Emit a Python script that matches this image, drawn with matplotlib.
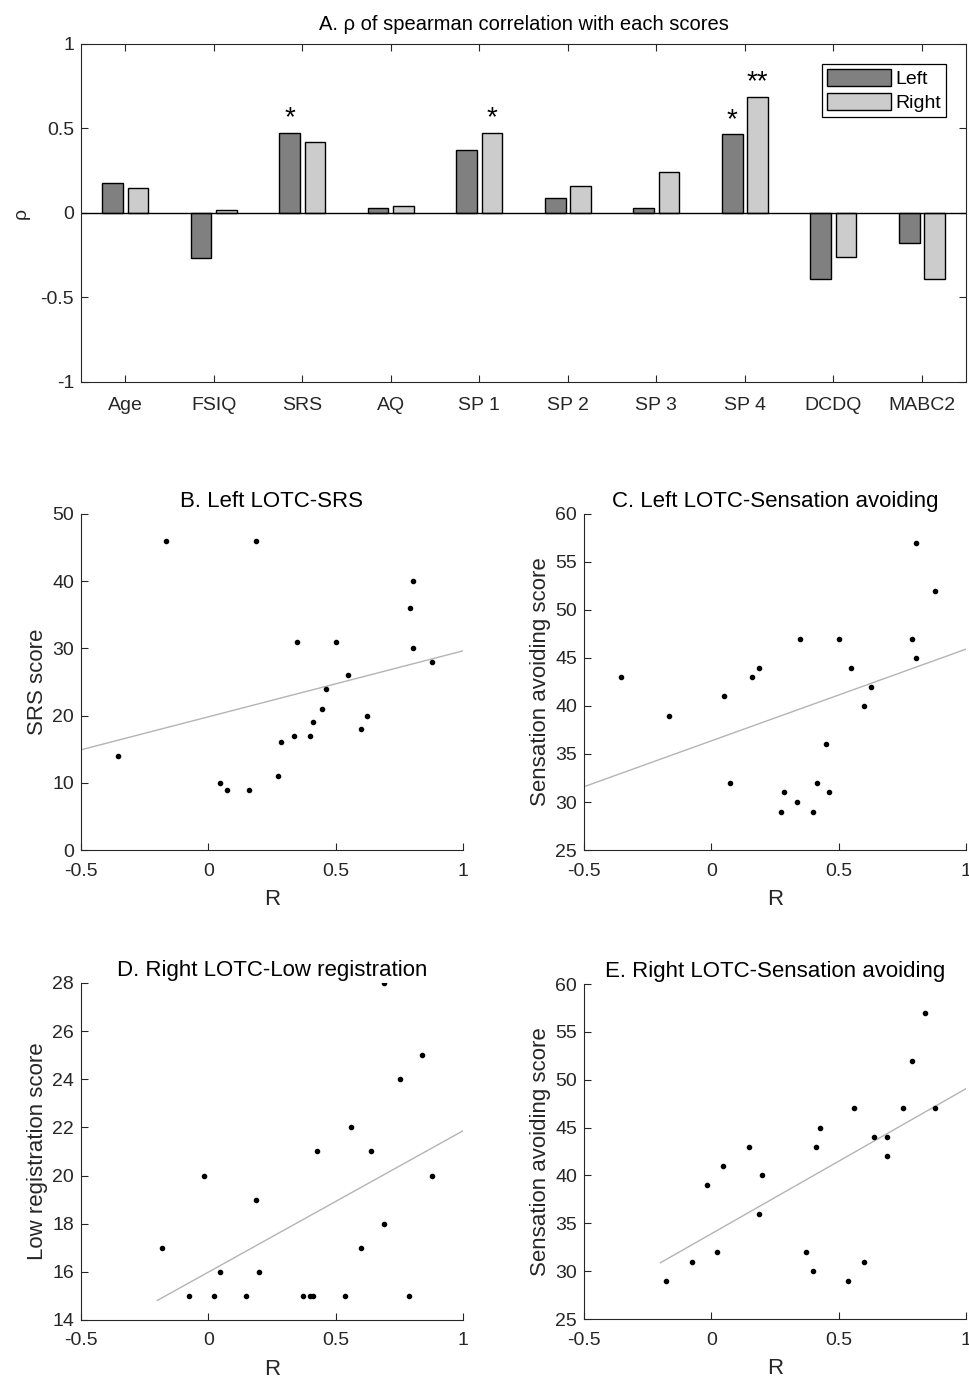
import numpy as np
import matplotlib.pyplot as plt

plt.rcParams['font.family'] = ['Liberation Sans', 'DejaVu Sans']

# ---- panel A data ----
cats = ['Age', 'FSIQ', 'SRS', 'AQ', 'SP 1', 'SP 2', 'SP 3', 'SP 4', 'DCDQ', 'MABC2']
rho_left = [0.178, -0.267, 0.475, 0.03, 0.372, 0.086, 0.03, 0.466, -0.388, -0.175]
rho_right = [0.149, 0.02, 0.42, 0.04, 0.475, 0.16, 0.243, 0.688, -0.259, -0.388]
sig_left = ['', '', '*', '', '', '', '', '*', '', '']
sig_right = ['', '', '', '', '*', '', '', '**', '', '']

# ---- scatter data ----
r_left = [-0.355, -0.166, 0.186, 0.046, 0.073, 0.161, 0.274, 0.287, 0.337, 0.350, 0.398,
          0.412, 0.448, 0.463, 0.501, 0.550, 0.599, 0.625, 0.790, 0.802, 0.802, 0.877]
srs = [14, 46, 46, 10, 9, 9, 11, 16, 17, 31, 17, 19, 21, 24, 31, 26, 18, 20, 36, 40, 30, 28]
sa_left = [43, 39, 44, 41, 32, 43, 29, 31, 30, 47, 29, 32, 36, 31, 47, 44, 40, 42, 47, 57, 45, 52]
r_left_c = [-0.353, -0.165, 0.186, 0.048, 0.073, 0.161, 0.274, 0.287, 0.337, 0.349, 0.398,
            0.413, 0.450, 0.463, 0.501, 0.550, 0.600, 0.625, 0.789, 0.802, 0.802, 0.877]

r_right = [-0.180, -0.077, -0.016, 0.022, 0.047, 0.148, 0.186, 0.199, 0.372, 0.398, 0.411,
           0.425, 0.537, 0.562, 0.599, 0.638, 0.688, 0.689, 0.751, 0.789, 0.840, 0.877]
low_reg = [17, 15, 20, 15, 16, 15, 19, 16, 15, 15, 15, 21, 15, 22, 17, 21, 18, 28, 24, 15, 25, 20]
sa_right = [29, 31, 39, 32, 41, 43, 36, 40, 32, 30, 43, 45, 29, 47, 31, 44, 44, 42, 47, 52, 57, 47]

txt = '#262626'
fig = plt.figure(figsize=(9.7, 13.79), dpi=100)

# ---------------- A ----------------
ax = fig.add_axes([0.0835, 0.7230, 0.9124, 0.2451])
x = np.arange(1, len(cats) + 1)
w = 0.235
off = 0.143
bl = ax.bar(x - off, rho_left, w, color='#808080', edgecolor='black', linewidth=1.0, label='Left')
br = ax.bar(x + off, rho_right, w, color='#cccccc', edgecolor='black', linewidth=1.0, label='Right')
ax.axhline(0, color='black', linewidth=1.0)
for i in range(len(cats)):
    for s, v, dx in ((sig_left[i], rho_left[i], -off), (sig_right[i], rho_right[i], off)):
        if s:
            ax.annotate(s, (x[i] + dx, v), xytext=(0, 1), textcoords='offset points',
                        ha='center', va='bottom', fontsize=20, color='black')
ax.set_xlim(0.5, 10.5)
ax.set_ylim(-1, 1)
ax.set_yticks([-1, -0.5, 0, 0.5, 1])
ax.set_yticklabels(['-1', '-0.5', '0', '0.5', '1'])
ax.set_xticks(x)
ax.set_xticklabels(cats)
ax.tick_params(direction='in', top=True, right=True, length=5, labelsize=14,
               labelcolor=txt, color=txt)
ax.tick_params(axis='x', pad=11)
ax.tick_params(axis='y', pad=5)
for sp in ax.spines.values():
    sp.set_color(txt)
ax.set_ylabel('ρ', fontsize=14, color=txt, labelpad=8)
ax.set_title('A. ρ of spearman correlation with each scores', fontsize=14.5, color='black', pad=10)
leg = ax.legend(loc='upper right', bbox_to_anchor=(0.977, 0.941), fontsize=14,
                handlelength=3.3, handleheight=1.0, handletextpad=0.2, borderpad=0.25,
                labelspacing=0.25, fancybox=False, framealpha=1, edgecolor='black',
                borderaxespad=0)
leg.get_frame().set_linewidth(0.9)

# ---------------- scatter panels ----------------
panels = [
    ([0.0835, 0.3836, 0.3938, 0.2437], r_left, srs, 'B. Left LOTC-SRS', 'SRS score',
     (0, 50), np.arange(0, 51, 10), (-0.5, 1)),
    ([0.6021, 0.3836, 0.3938, 0.2437], r_left_c, sa_left, 'C. Left LOTC-Sensation avoiding',
     'Sensation avoiding score', (25, 60), np.arange(25, 61, 5), (-0.5, 1)),
    ([0.0835, 0.0428, 0.3938, 0.2444], r_right, low_reg, 'D. Right LOTC-Low registration',
     'Low registration score', (14, 28), np.arange(14, 29, 2), (-0.2, 1)),
    ([0.6021, 0.0435, 0.3938, 0.2429], r_right, sa_right, 'E. Right LOTC-Sensation avoiding',
     'Sensation avoiding score', (25, 60), np.arange(25, 61, 5), (-0.2, 1)),
]

for rect, xs, ys, title, ylab, ylim, yt, lx in panels:
    a = fig.add_axes(rect)
    k, b = np.polyfit(xs, ys, 1)
    lxs = np.array(lx)
    a.plot(lxs, k * lxs + b, color='#b4b4b4', linewidth=1.0, zorder=1)
    a.scatter(xs, ys, s=9, color='black', zorder=2)
    a.set_xlim(-0.5, 1)
    a.set_ylim(*ylim)
    a.set_xticks([-0.5, 0, 0.5, 1])
    a.set_xticklabels(['-0.5', '0', '0.5', '1'])
    a.set_yticks(yt)
    a.spines['top'].set_visible(False)
    a.spines['right'].set_visible(False)
    for sp in a.spines.values():
        sp.set_color(txt)
    a.tick_params(direction='in', length=5, labelsize=14, labelcolor=txt, color=txt)
    a.tick_params(axis='x', pad=9)
    a.tick_params(axis='y', pad=5)
    a.set_title(title, fontsize=16, color='black', pad=5)
    a.set_ylabel(ylab, fontsize=16, color=txt, labelpad=3)
    a.set_xlabel('R', fontsize=16, color=txt, labelpad=7)

fig.savefig('out.png', dpi=100)
